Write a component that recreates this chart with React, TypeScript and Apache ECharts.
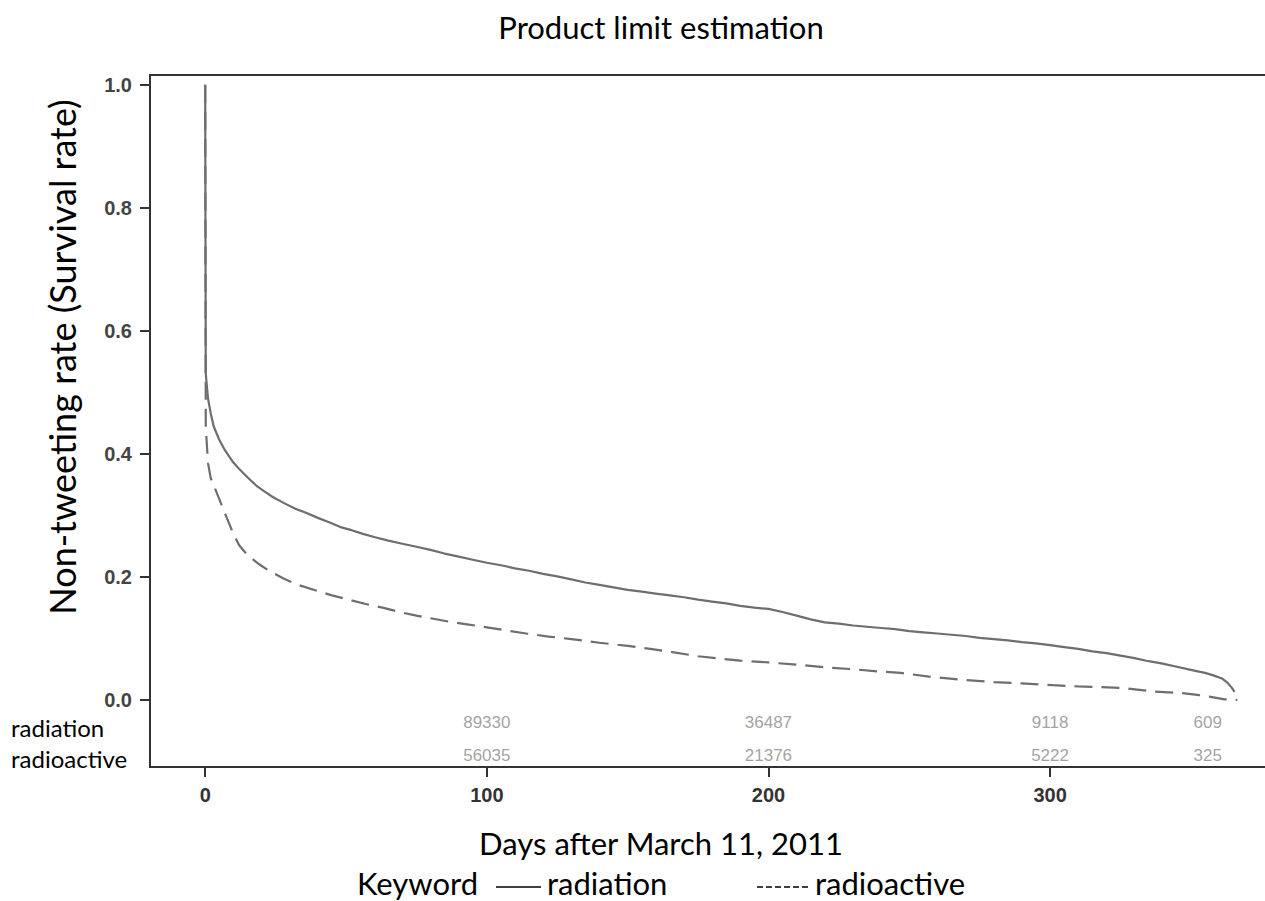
import { useEffect, useRef } from 'react';
import * as echarts from 'echarts';

// Kaplan–Meier estimates: [day, non-tweeting rate]
const radiationCurve: [number, number][] = [
  [0, 1.0], [0.2, 0.53], [1, 0.49], [2, 0.465], [3, 0.445], [5, 0.423], [7, 0.406],
  [10, 0.386], [12, 0.376], [15, 0.362], [18, 0.349], [21, 0.339], [24, 0.33], [28, 0.32],
  [32, 0.311], [36, 0.304], [40, 0.296], [44, 0.289], [48, 0.281], [52, 0.276], [56, 0.27],
  [60, 0.265], [65, 0.259], [70, 0.254], [75, 0.249], [80, 0.244], [85, 0.238], [90, 0.233],
  [95, 0.228], [100, 0.223], [105, 0.219], [110, 0.214], [115, 0.21], [120, 0.205],
  [125, 0.201], [130, 0.196], [135, 0.191], [140, 0.187], [145, 0.183], [150, 0.179],
  [155, 0.176], [160, 0.173], [165, 0.17], [170, 0.167], [175, 0.163], [180, 0.16],
  [185, 0.157], [190, 0.153], [195, 0.15], [200, 0.148], [205, 0.143], [210, 0.137],
  [215, 0.131], [220, 0.126], [225, 0.124], [230, 0.121], [235, 0.119], [240, 0.117],
  [245, 0.115], [250, 0.112], [255, 0.11], [260, 0.108], [265, 0.106], [270, 0.104],
  [275, 0.101], [280, 0.099], [285, 0.097], [290, 0.094], [295, 0.092], [300, 0.089],
  [305, 0.086], [310, 0.083], [315, 0.079], [320, 0.076], [325, 0.072], [330, 0.068],
  [335, 0.063], [340, 0.059], [345, 0.054], [350, 0.049], [355, 0.044], [358, 0.04],
  [361, 0.035], [363, 0.028], [364.5, 0.02], [365.5, 0.013],
];

const radioactiveCurve: [number, number][] = [
  [0, 1.0], [0.2, 0.444], [1, 0.385], [2, 0.36], [4, 0.338], [6, 0.315], [7.5, 0.298],
  [10, 0.27], [12, 0.252], [14, 0.241], [16, 0.232], [19, 0.221], [23, 0.209], [28, 0.197],
  [33, 0.187], [40, 0.177], [45, 0.17], [51, 0.163], [57, 0.156], [63, 0.15], [69, 0.143],
  [75, 0.137], [81, 0.132], [87, 0.127], [93, 0.123], [100, 0.118], [107, 0.113],
  [114, 0.108], [122, 0.103], [130, 0.099], [140, 0.093], [150, 0.088], [158, 0.083],
  [167, 0.077], [175, 0.071], [183, 0.067], [190, 0.064], [200, 0.061], [211, 0.057],
  [220, 0.053], [230, 0.05], [240, 0.046], [247, 0.044], [257, 0.038], [268, 0.033],
  [280, 0.029], [290, 0.027], [301, 0.024], [310, 0.022], [318, 0.021], [327, 0.019],
  [336, 0.014], [347, 0.011], [353, 0.008], [357, 0.005], [362, 0.001], [366.5, 0.0],
];

// Number at risk, printed under the curves
const riskDays = [100, 200, 300, 356];
const radiationAtRisk = [89330, 36487, 9118, 609];
const radioactiveAtRisk = [56035, 21376, 5222, 325];
const radiationRowY = -0.036;
const radioactiveRowY = -0.091;

const xTicks = [0, 100, 200, 300];
const yTicks = [0, 0.2, 0.4, 0.6, 0.8, 1.0];

const TEXT_FONT = 'Lato, "Open Sans", sans-serif';
const AXIS_FONT = '"Liberation Sans", Arial, sans-serif';
const CURVE_COLOR = '#6e6e6e';
const FRAME_COLOR = '#333333';

export default function App() {
  const ref = useRef<HTMLDivElement>(null);

  useEffect(() => {
    if (!ref.current) return;
    const chart = echarts.init(ref.current, undefined, { renderer: 'svg' });

    const riskRow = (name: string, counts: number[], rowY: number) => ({
      name,
      type: 'scatter',
      symbolSize: 0,
      silent: true,
      data: riskDays.map((d, i) => [d, rowY, counts[i]]),
      label: {
        show: true,
        position: 'inside',
        formatter: (p: any) => String(p.value[2]),
        color: '#8a8a8a',
        fontFamily: AXIS_FONT,
        fontSize: 17,
      },
    });

    const plainText = (text: string, x: number, y: number, size: number, align = 'left') => ({
      type: 'text',
      x,
      y,
      style: {
        text,
        font: `${size}px ${TEXT_FONT}`,
        fill: '#000',
        textAlign: align,
        textVerticalAlign: 'middle',
      },
    });

    chart.setOption({
      animation: false,
      backgroundColor: '#ffffff',
      grid: {
        left: 150,
        top: 75,
        width: 1131,
        height: 692,
        show: true,
        borderColor: FRAME_COLOR,
        borderWidth: 2,
        outerBoundsMode: 'none',
      },
      xAxis: {
        type: 'value',
        min: -19.6,
        max: 382,
        axisLine: { show: true, onZero: false, lineStyle: { color: FRAME_COLOR, width: 2 } },
        axisTick: {
          show: true,
          length: 10,
          customValues: xTicks,
          lineStyle: { color: FRAME_COLOR, width: 2 },
        },
        axisLabel: {
          customValues: xTicks,
          margin: 18,
          fontSize: 20,
          fontWeight: 'bold',
          color: '#333333',
          fontFamily: AXIS_FONT,
        },
        splitLine: { show: false },
      },
      yAxis: {
        type: 'value',
        min: -0.109,
        max: 1.016,
        axisLine: { show: true, onZero: false, lineStyle: { color: FRAME_COLOR, width: 2 } },
        axisTick: {
          show: true,
          length: 10,
          customValues: yTicks,
          lineStyle: { color: FRAME_COLOR, width: 2 },
        },
        axisLabel: {
          customValues: yTicks,
          margin: 18,
          fontSize: 20,
          fontWeight: 'bold',
          color: '#444444',
          fontFamily: AXIS_FONT,
          formatter: (v: number) => v.toFixed(1),
        },
        splitLine: { show: false },
      },
      series: [
        {
          name: 'radiation',
          type: 'line',
          showSymbol: false,
          silent: true,
          data: radiationCurve,
          lineStyle: { color: CURVE_COLOR, width: 2.2 },
        },
        {
          name: 'radioactive',
          type: 'line',
          showSymbol: false,
          silent: true,
          data: radioactiveCurve,
          lineStyle: { color: CURVE_COLOR, width: 2.2, type: [18, 9] },
        },
        riskRow('radiation at risk', radiationAtRisk, radiationRowY),
        riskRow('radioactive at risk', radioactiveAtRisk, radioactiveRowY),
      ],
      graphic: [
        plainText('Product limit estimation', 661, 27, 31, 'center'),
        {
          type: 'text',
          x: 62,
          y: 357,
          rotation: Math.PI / 2,
          style: {
            text: 'Non-tweeting rate (Survival rate)',
            font: `36px ${TEXT_FONT}`,
            fill: '#000',
            textAlign: 'center',
            textVerticalAlign: 'middle',
          },
        },
        plainText('radiation', 11, 727, 24),
        plainText('radioactive', 11, 758, 24),
        plainText('Days after March 11, 2011', 661, 843, 31, 'center'),
        // legend row: keyword, line samples and names
        plainText('Keyword', 357, 883, 31),
        {
          type: 'line',
          shape: { x1: 496, y1: 887, x2: 541, y2: 887 },
          style: { stroke: '#000', lineWidth: 1.5 },
        },
        plainText('radiation', 547, 883, 31),
        {
          type: 'line',
          shape: { x1: 757, y1: 887, x2: 808, y2: 887 },
          style: { stroke: '#000', lineWidth: 1.5, lineDash: [6, 3] },
        },
        plainText('radioactive', 815, 883, 31),
      ],
    });

    return () => chart.dispose();
  }, []);

  return (
    <div
      ref={ref}
      style={{ position: 'fixed', left: 0, top: 0, width: 1265, height: 901, background: '#fff' }}
    />
  );
}
